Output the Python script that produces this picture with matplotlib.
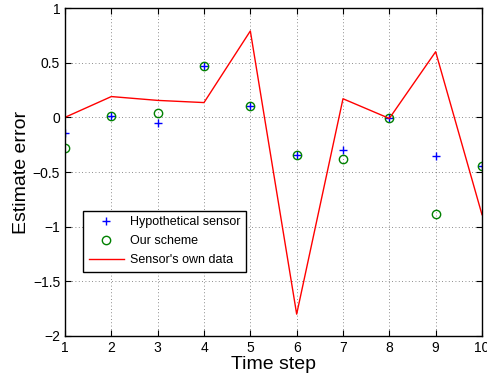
import matplotlib
matplotlib.use("Agg")
import matplotlib.pyplot as plt

plt.rcParams["font.family"] = ["Liberation Sans", "DejaVu Sans"]

steps = [1, 2, 3, 4, 5, 6, 7, 8, 9, 10]
hypothetical = [-0.14, 0.015, -0.05, 0.47, 0.107, -0.34, -0.30, -0.01, -0.355, -0.445]
our_scheme = [-0.28, 0.015, 0.04, 0.47, 0.107, -0.34, -0.38, -0.01, -0.88, -0.445]
own_data = [0.0, 0.19, 0.155, 0.135, 0.79, -1.80, 0.17, -0.01, 0.60, -0.89]

x_ticks = list(range(1, 11))
y_ticks = [-2, -1.5, -1, -0.5, 0, 0.5, 1]
y_tick_labels = ["\u22122", "\u22121.5", "\u22121", "\u22120.5", "0", "0.5", "1"]

fig = plt.figure(figsize=(4.87, 3.76), dpi=100)
ax = fig.add_axes([0.1335, 0.1064, 0.8562, 0.8723])

ax.plot(steps, hypothetical, "+", color=(0, 0, 1), ms=6, mew=1.0, label="Hypothetical sensor")
ax.plot(steps, our_scheme, "o", color=(0, 0.5, 0), mfc="none", ms=6, mew=1.0, label="Our scheme")
ax.plot(steps, own_data, "-", color=(1, 0, 0), lw=1.0, label="Sensor's own data")

ax.set_xlim(1, 10)
ax.set_ylim(-2, 1)
ax.set_xticks(x_ticks)
ax.set_yticks(y_ticks)
ax.set_yticklabels(y_tick_labels)
ax.tick_params(direction="in", labelsize=10, length=4, width=0.8, top=True, right=True)
ax.grid(True, color="black", linestyle=(0, (1, 3)), linewidth=0.6, alpha=0.6)
for s in ax.spines.values():
    s.set_linewidth(1.0)

ax.set_xlabel("Time step", fontsize=14, labelpad=1)
ax.set_ylabel("Estimate error", fontsize=14, labelpad=2)

leg = ax.legend(loc="upper left", bbox_to_anchor=(0.043, 0.382), borderaxespad=0,
                fontsize=9, frameon=True, fancybox=False, edgecolor="black",
                framealpha=1, handlelength=2.8, handletextpad=0.5,
                borderpad=0.45, labelspacing=0.55)
leg.get_frame().set_linewidth(1.0)

fig.savefig("out.png", dpi=100)
